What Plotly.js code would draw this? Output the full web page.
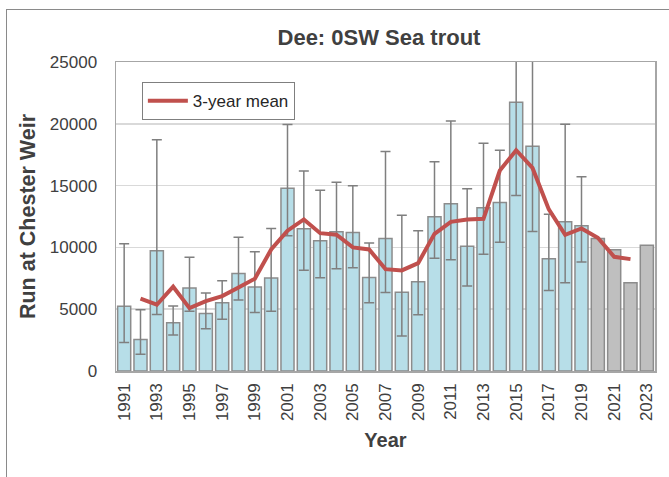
<!DOCTYPE html>
<html>
<head>
<meta charset="utf-8">
<script src="https://cdn.plot.ly/plotly-3.0.1.min.js"></script>
<style>
  html, body { margin: 0; padding: 0; background: #ffffff; }
  #wrap { position: relative; width: 669px; height: 477px; overflow: hidden; }
  #frame { position: absolute; left: 6px; top: 9px; width: 700px; height: 500px;
           border-top: 1.5px solid #8a8a8a; border-left: 1.5px solid #8a8a8a; pointer-events: none; }
  #chart { position: absolute; left: 0; top: 0; width: 669px; height: 477px; }
</style>
</head>
<body>
<div id="wrap">
  <div id="chart"></div>
  <div id="frame"></div>
</div>
<script>
// Observed years with confidence limits
const obsYears = [1991,1992,1993,1994,1995,1996,1997,1998,1999,2000,2001,2002,2003,2004,2005,2006,2007,2008,2009,2010,2011,2012,2013,2014,2015,2016,2017,2018,2019];
const obsRun   = [5230,2540,9730,3910,6710,4660,5520,7890,6790,7520,14790,11510,10540,11260,11210,7570,10720,6380,7220,12480,13530,10100,13200,13630,21740,18180,9080,12070,11750];
const obsUpper = [10290,4960,18700,5260,9210,6310,7300,10830,9650,11530,19940,16190,14630,15270,14980,10350,17750,12610,11340,16920,20230,14740,18420,17860,28000,27000,12690,19960,15710];
const obsLower = [2300,1350,4580,2910,4830,3420,4180,5740,4740,4830,10940,8160,7540,8270,8360,5520,6360,2830,4560,9130,9000,6870,9450,10420,14200,11290,6520,7140,8810];

// Later years (grey bars)
const estYears = [2020,2021,2022,2023];
const estRun   = [10720,9810,7140,10180];

// 3-year mean
const meanYears = [1992,1993,1994,1995,1996,1997,1998,1999,2000,2001,2002,2003,2004,2005,2006,2007,2008,2009,2010,2011,2012,2013,2014,2015,2016,2017,2018,2019,2020,2021,2022];
const meanRun   = [5850,5360,6820,5090,5660,6060,6760,7470,9830,11350,12260,11150,11020,10000,9830,8240,8140,8730,11100,12070,12260,12310,16220,17860,16430,13070,11020,11530,10780,9240,9050];

const tickYears = [1991,1993,1995,1997,1999,2001,2003,2005,2007,2009,2011,2013,2015,2017,2019,2021,2023];

const errPlus  = obsUpper.map((u, i) => u - obsRun[i]);
const errMinus = obsRun.map((v, i) => v - obsLower[i]);

const FONT = "Liberation Sans, Arial, sans-serif";
const TXT = "#404040";

const traces = [
  {
    type: "bar", x: obsYears, y: obsRun, width: 0.8, showlegend: false,
    marker: { color: "#b7dee8", line: { color: "#8c8c8c", width: 1.5 } },
    error_y: { type: "data", symmetric: false, array: errPlus, arrayminus: errMinus,
               color: "#7f7f7f", thickness: 1.5, width: 5 },
    hoverinfo: "x+y"
  },
  {
    type: "bar", x: estYears, y: estRun, width: 0.8, showlegend: false,
    marker: { color: "#bfbfbf", line: { color: "#8c8c8c", width: 1.5 } },
    hoverinfo: "x+y"
  },
  {
    type: "scatter", mode: "lines", x: meanYears, y: meanRun, name: "3-year mean",
    line: { color: "#c0504d", width: 4 }
  }
];

const layout = {
  width: 669, height: 477,
  margin: { l: 116, r: 14, t: 62, b: 106 },
  paper_bgcolor: "rgba(0,0,0,0)", plot_bgcolor: "#ffffff",
  barmode: "overlay",
  font: { family: FONT, color: TXT },
  title: {
    text: "<b>Dee: 0SW Sea trout</b>",
    font: { family: FONT, size: 22, color: TXT },
    xref: "container", yref: "container", x: 0.5665, y: 0.922,
    xanchor: "center", yanchor: "middle"
  },
  xaxis: {
    range: [1990.5, 2023.5],
    tickmode: "array", tickvals: tickYears, ticktext: tickYears.map(String),
    tickangle: -90, tickfont: { family: FONT, size: 17, color: TXT },
    ticks: "", showgrid: false, zeroline: false,
    showline: true, linecolor: "#a6a6a6", linewidth: 1.5, mirror: true,
    ticklabelstandoff: 4,
    title: { text: "<b>Year</b>", font: { family: FONT, size: 20, color: TXT }, standoff: 13 }
  },
  yaxis: {
    range: [0, 25000], dtick: 5000, tick0: 0, tickformat: "d",
    tickfont: { family: FONT, size: 17, color: TXT },
    ticks: "", showgrid: true, gridcolor: "#d9d9d9", gridwidth: 1.5,
    zeroline: false, showline: true, linecolor: "#a6a6a6", linewidth: 1.5, mirror: true,
    ticklabelstandoff: 14,
    title: { text: "<b>Run at Chester Weir</b>", font: { family: FONT, size: 21.5, color: TXT }, standoff: 8 }
  },
  legend: {
    x: 0.048, y: 0.935, xanchor: "left", yanchor: "top",
    bgcolor: "#ffffff", bordercolor: "#7f7f7f", borderwidth: 1,
    font: { family: FONT, size: 17, color: "#262626" },
    itemwidth: 40, tracegroupgap: 0
  },
  showlegend: true
};

Plotly.newPlot("chart", traces, layout, { displayModeBar: false, staticPlot: true });
</script>
</body>
</html>
